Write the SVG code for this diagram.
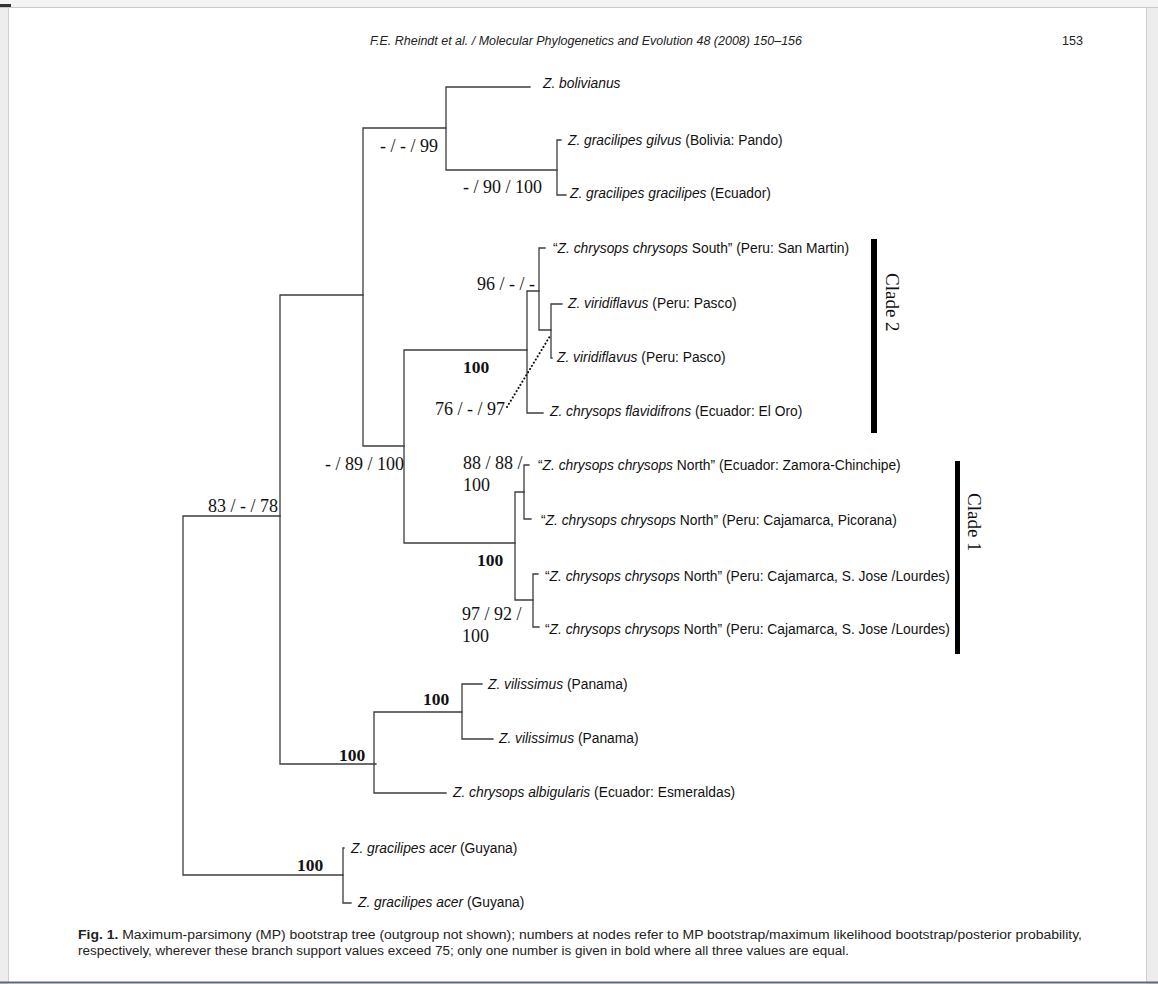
<svg xmlns="http://www.w3.org/2000/svg" width="1158" height="984" viewBox="0 0 1158 984">
<defs>
<style>
.br{fill:none;stroke:#3c3c3c;stroke-width:1.3;stroke-linecap:square}
.dot{fill:none;stroke:#111;stroke-width:2;stroke-dasharray:0.1 3.6;stroke-linecap:round}
.sp{font-family:"Liberation Sans",Arial,sans-serif;font-size:13.8px;fill:#111}
.sp .i{font-style:italic}
.su{font-family:"Liberation Serif","Times New Roman",serif;font-size:18px;fill:#111}
.sb{font-family:"Liberation Serif","Times New Roman",serif;font-size:17.5px;font-weight:bold;fill:#111}
.cl{font-family:"Liberation Serif","Times New Roman",serif;font-size:19px;fill:#111}
.hd{font-family:"Liberation Sans",Arial,sans-serif;font-size:12.5px;font-style:italic;fill:#222}
.pg{font-family:"Liberation Sans",Arial,sans-serif;font-size:12.5px;fill:#222}
.cap{font-family:"Liberation Sans",Arial,sans-serif;font-size:12px;fill:#222}
</style>
</defs>
<rect x="0" y="0" width="1158" height="984" fill="#ffffff"/>
<g id="page-frame">
<rect x="0" y="0" width="1158" height="7" fill="#f3f3f3"/>
<rect x="0" y="7" width="8" height="977" fill="#ededed"/>
<rect x="1147" y="7" width="11" height="977" fill="#ededed"/>
<line x1="0" y1="7.5" x2="1158" y2="7.5" stroke="#c8c8c8" stroke-width="1"/>
<line x1="8.5" y1="7" x2="8.5" y2="982" stroke="#cfcfcf" stroke-width="1"/>
<line x1="1146.5" y1="7" x2="1146.5" y2="982" stroke="#cfcfcf" stroke-width="1"/>
<rect x="0" y="4" width="11" height="3" fill="#333"/>
<line x1="0" y1="982.5" x2="1158" y2="982.5" stroke="#5e6a72" stroke-width="2"/>
</g>
<g id="header">
<text class="hd" x="370" y="45" textLength="432" lengthAdjust="spacingAndGlyphs">F.E. Rheindt et al. / Molecular Phylogenetics and Evolution 48 (2008) 150–156</text>
<text class="pg" x="1062" y="45" textLength="21" lengthAdjust="spacingAndGlyphs">153</text>
</g>
<g id="connectors">
<path class="br" d="M183,516 V875 M183,516 H280 M183,875 H343"/>
<path class="br" d="M280,295 V764 M280,295 H363 M280,764 H376"/>
<path class="br" d="M363,128 V446 M363,128 H446 M363,446 H404"/>
<path class="br" d="M446,87 V170 M446,87 H530 M446,170 H557"/>
<path class="br" d="M557,140 V195 M557,140 H561 M557,195 H566"/>
<path class="br" d="M404,350 V543 M404,350 H527 M404,543 H515"/>
<path class="br" d="M527,291 V413 M527,291 H539 M527,413 H543"/>
<path class="br" d="M539,248 V330 M539,248 H545 M539,330 H551"/>
<path class="br" d="M551,304 V358 M551,304 H562 M551,358 H552"/>
<path class="br" d="M515,492 V600 M515,492 H524 M515,600 H533"/>
<path class="br" d="M524,465 V519 M524,465 H529 M524,519 H531"/>
<path class="br" d="M533,574 V627 M533,574 H538 M533,627 H539"/>
<path class="br" d="M374,712 V793 M374,712 H462 M374,793 H446"/>
<path class="br" d="M462,684 V739 M462,684 H482 M462,739 H493"/>
<path class="br" d="M343,848 V903 M343,848 H344 M343,903 H351"/>
<path class="dot" d="M507,407 L550,336"/>
</g>
<g id="leaf-bolivianus"><text class="sp" x="543" y="88"><tspan class="i">Z. bolivianus</tspan></text></g>
<g id="leaf-gilvus"><text class="sp" x="568" y="145"><tspan class="i">Z. gracilipes gilvus</tspan> (Bolivia: Pando)</text></g>
<g id="leaf-gracilipes"><text class="sp" x="570" y="198"><tspan class="i">Z. gracilipes gracilipes</tspan> (Ecuador)</text></g>
<g id="leaf-south"><text class="sp" x="553" y="253">“<tspan class="i">Z. chrysops chrysops</tspan> South” (Peru: San Martin)</text></g>
<g id="leaf-viridiflavus-1"><text class="sp" x="568" y="308"><tspan class="i">Z. viridiflavus</tspan> (Peru: Pasco)</text></g>
<g id="leaf-viridiflavus-2"><text class="sp" x="557" y="362"><tspan class="i">Z. viridiflavus</tspan> (Peru: Pasco)</text></g>
<g id="leaf-flavidifrons"><text class="sp" x="550" y="416"><tspan class="i">Z. chrysops flavidifrons</tspan> (Ecuador: El Oro)</text></g>
<g id="leaf-north-1"><text class="sp" x="538" y="470">“<tspan class="i">Z. chrysops chrysops</tspan> North” (Ecuador: Zamora-Chinchipe)</text></g>
<g id="leaf-north-2"><text class="sp" x="541" y="525">“<tspan class="i">Z. chrysops chrysops</tspan> North” (Peru: Cajamarca, Picorana)</text></g>
<g id="leaf-north-3"><text class="sp" x="545" y="581">“<tspan class="i">Z. chrysops chrysops</tspan> North” (Peru: Cajamarca, S. Jose /Lourdes)</text></g>
<g id="leaf-north-4"><text class="sp" x="545" y="634">“<tspan class="i">Z. chrysops chrysops</tspan> North” (Peru: Cajamarca, S. Jose /Lourdes)</text></g>
<g id="leaf-vilissimus-1"><text class="sp" x="488" y="689"><tspan class="i">Z. vilissimus</tspan> (Panama)</text></g>
<g id="leaf-vilissimus-2"><text class="sp" x="499" y="743"><tspan class="i">Z. vilissimus</tspan> (Panama)</text></g>
<g id="leaf-albigularis"><text class="sp" x="453" y="797"><tspan class="i">Z. chrysops albigularis</tspan> (Ecuador: Esmeraldas)</text></g>
<g id="leaf-acer-1"><text class="sp" x="351" y="853"><tspan class="i">Z. gracilipes acer</tspan> (Guyana)</text></g>
<g id="leaf-acer-2"><text class="sp" x="358" y="907"><tspan class="i">Z. gracilipes acer</tspan> (Guyana)</text></g>
<g id="node-root"><text class="su" x="208" y="512">83 / - / 78</text></g>
<g id="node-b"><text class="su" x="380" y="152">- / - / 99</text></g>
<g id="node-d"><text class="su" x="463" y="193">- / 90 / 100</text></g>
<g id="node-g"><text class="su" x="477" y="290">96 / - / -</text></g>
<g id="node-f"><text class="sb" x="463" y="373">100</text></g>
<g id="node-h"><text class="su" x="435" y="415">76 / - / 97</text></g>
<g id="node-e"><text class="su" x="325" y="470">- / 89 / 100</text></g>
<g id="node-j"><text class="su" x="463" y="469">88 / 88 /</text><text class="su" x="463" y="491">100</text></g>
<g id="node-i"><text class="sb" x="477" y="566">100</text></g>
<g id="node-k"><text class="su" x="462" y="620">97 / 92 /</text><text class="su" x="462" y="642">100</text></g>
<g id="node-m"><text class="sb" x="423" y="705">100</text></g>
<g id="node-l"><text class="sb" x="339" y="761">100</text></g>
<g id="node-n"><text class="sb" x="297" y="871">100</text></g>
<g id="clade-2">
<rect x="871" y="239" width="6" height="194" fill="#000"/>
<text class="cl" transform="translate(886,273) rotate(90)">Clade 2</text>
</g>
<g id="clade-1">
<rect x="955" y="461" width="5" height="193" fill="#000"/>
<text class="cl" transform="translate(968,493) rotate(90)">Clade 1</text>
</g>
<g id="caption">
<text class="cap" x="78" y="939" textLength="1004" lengthAdjust="spacingAndGlyphs"><tspan font-weight="bold">Fig. 1.</tspan> Maximum-parsimony (MP) bootstrap tree (outgroup not shown); numbers at nodes refer to MP bootstrap/maximum likelihood bootstrap/posterior probability,</text>
<text class="cap" x="78" y="955" textLength="771" lengthAdjust="spacingAndGlyphs">respectively, wherever these branch support values exceed 75; only one number is given in bold where all three values are equal.</text>
</g>
</svg>
